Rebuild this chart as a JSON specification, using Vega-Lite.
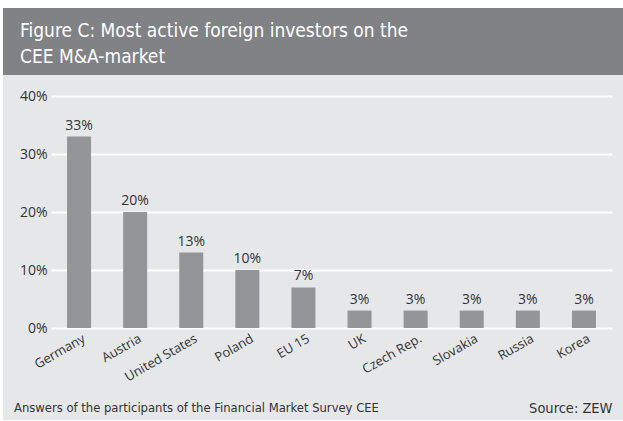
{
  "$schema": "https://vega.github.io/schema/vega-lite/v6.json",
  "background": "white",
  "padding": {"left": 3, "top": 8, "right": 0, "bottom": 1},
  "spacing": 0,
  "bounds": "flush",
  "config": {"view": {"stroke": null}},
  "vconcat": [
    {
      "width": 620,
      "height": 67,
      "view": {"fill": "#808285", "stroke": null},
      "title": {
        "text": ["Figure C: Most active foreign investors on the", "CEE M&A-market"],
        "orient": "top",
        "anchor": "start",
        "frame": "group",
        "offset": -74,
        "dx": 17,
        "baseline": "alphabetic",
        "lineHeight": 26,
        "font": "DejaVu Sans Condensed, sans-serif",
        "fontSize": 19,
        "fontWeight": "normal",
        "color": "white"
      },
      "data": {"values": []},
      "mark": {"type": "point", "opacity": 0},
      "encoding": {}
    },
    {
      "width": 620,
      "height": 345,
      "view": {"fill": "#e6e7e8", "stroke": null},
      "title": {
        "text": "Answers of the participants of the Financial Market Survey CEE",
        "orient": "bottom",
        "anchor": "start",
        "frame": "group",
        "offset": -8,
        "dx": 11,
        "baseline": "alphabetic",
        "font": "DejaVu Sans Condensed, sans-serif",
        "fontSize": 12.9,
        "fontWeight": "normal",
        "color": "#333333"
      },
      "data": {
        "values": [
          {"country": "Germany", "value": 0.33},
          {"country": "Austria", "value": 0.20},
          {"country": "United States", "value": 0.13},
          {"country": "Poland", "value": 0.10},
          {"country": "EU 15", "value": 0.07},
          {"country": "UK", "value": 0.03},
          {"country": "Czech Rep.", "value": 0.03},
          {"country": "Slovakia", "value": 0.03},
          {"country": "Russia", "value": 0.03},
          {"country": "Korea", "value": 0.03}
        ]
      },
      "encoding": {
        "x": {
          "field": "country",
          "type": "nominal",
          "sort": null,
          "scale": {"range": [48, 609], "paddingInner": 0.572, "paddingOuter": 0.286},
          "axis": {
            "title": "Source: ZEW",
            "titleX": 609,
            "titleY": 84,
            "titleAlign": "right",
            "titleBaseline": "alphabetic",
            "titleFont": "DejaVu Sans Condensed, sans-serif",
            "titleFontSize": 14.5,
            "titleFontWeight": "normal",
            "titleColor": "#333333",
            "labelAngle": -30,
            "labelFont": "Open Sans",
            "labelFontSize": 13,
            "labelColor": "#333333",
            "labelPadding": 4,
            "labelOffset": 2,
            "ticks": false,
            "domain": false,
            "grid": false,
            "offset": -92
          }
        },
        "y": {
          "field": "value",
          "type": "quantitative",
          "scale": {"domain": [0, 0.4], "range": [253, 21], "nice": false, "zero": true},
          "axis": {
            "title": null,
            "format": ".0%",
            "values": [0, 0.1, 0.2, 0.3, 0.4],
            "grid": true,
            "gridColor": "white",
            "gridWidth": 2,
            "domain": false,
            "ticks": false,
            "labelPadding": 4,
            "offset": -48,
            "labelFont": "Open Sans",
            "labelFontSize": 14,
            "labelColor": "#333333"
          }
        }
      },
      "layer": [
        {"mark": {"type": "bar", "color": "#939598"}},
        {
          "mark": {"type": "text", "dy": -7, "baseline": "alphabetic", "font": "Open Sans", "fontSize": 14, "color": "#333333"},
          "encoding": {"text": {"field": "value", "type": "quantitative", "format": ".0%"}}
        }
      ]
    }
  ]
}
